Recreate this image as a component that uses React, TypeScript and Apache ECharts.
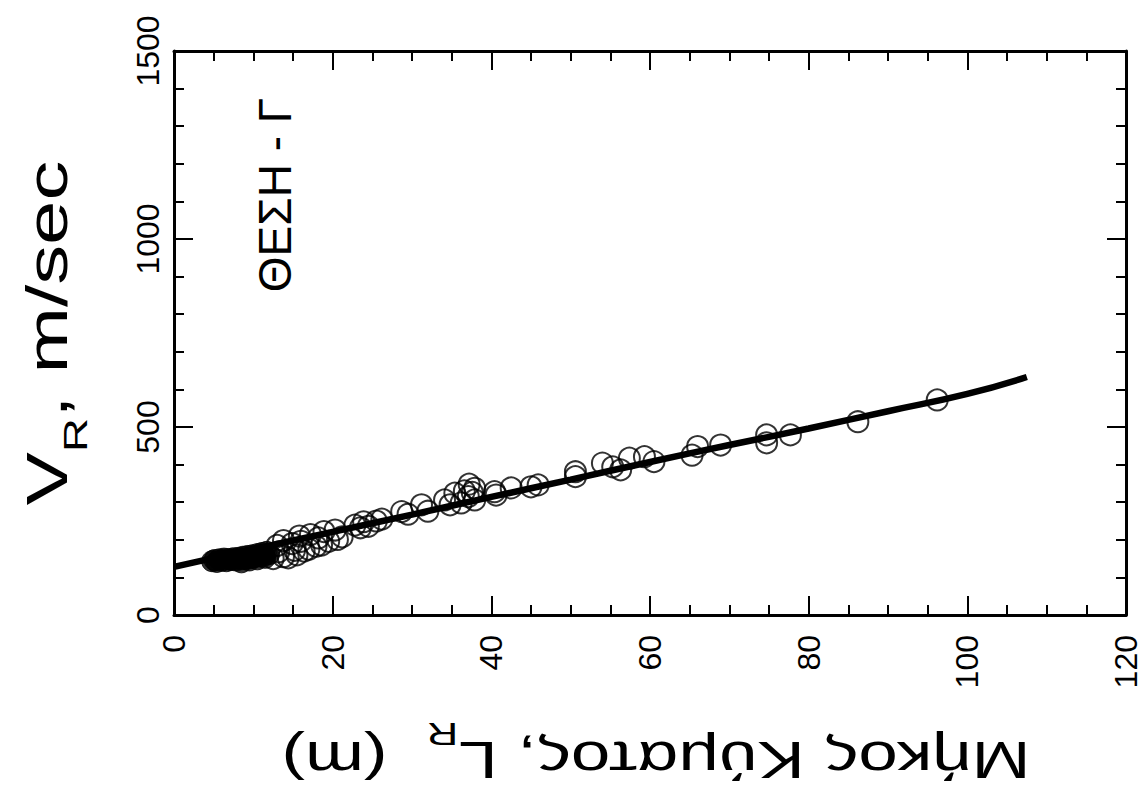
import React, { useEffect, useRef } from "react";
import * as echarts from "echarts";

// Dense cluster of short waves (printed as a solid blob in the original)
const clusterX = [
  4.8, 5.1, 5.4, 5.7, 6.0, 6.3, 6.6, 6.9, 7.2, 7.5, 7.8, 8.1, 8.4, 8.7, 9.0, 9.3, 9.6, 9.9, 10.2,
  10.5, 10.8, 11.1, 11.4, 11.7, 12.0, 8.5, 9.5, 10.5, 11.5,
];
const clusterY = [
  143, 146, 141, 148, 144, 150, 143, 149, 146, 151, 145, 152, 148, 155, 149, 157, 151, 159, 154,
  162, 156, 165, 158, 168, 162, 140, 145, 148, 152,
];
// Wave length L_R (m) of the other measured points
const lengthX = [
  12.5, 13.0, 13.2, 13.8, 13.8, 14.4, 14.9, 15.2, 15.5, 15.8, 16.0, 16.4, 17.0, 17.2, 17.9, 18.2,
  18.6, 18.9, 19.5, 20.3, 20.6, 21.2, 22.8, 23.5, 23.9, 24.5, 25.5, 26.2,
  28.7, 29.5, 31.2, 32.0, 34.1, 34.8, 35.4, 36.2, 36.6, 37.1, 37.2, 37.6, 37.9, 37.9, 40.4, 40.6,
  42.5, 45.0, 45.9, 50.6, 50.6, 54.0, 55.3, 56.3, 57.4, 59.3, 60.5, 65.3, 66.0, 68.9, 74.7, 74.7,
  77.7, 86.2, 96.2,
];
// Velocity V_R (m/sec) of the other measured points
const speedY = [
  150, 185, 168, 155, 198, 152, 190, 172, 160, 210, 196, 170, 175, 214, 183, 205,
  186, 222, 196, 226, 201, 208, 239, 232, 248, 236, 250, 255,
  275, 268, 293, 276, 306, 293, 324, 298, 330, 315, 348, 326, 337, 306, 328, 319,
  338, 341, 346, 381, 368, 404, 394, 386, 417, 421, 408, 425, 448, 452, 479, 458,
  479, 514, 572,
];
// Fitted curve
const fitX = [0, 10, 20, 30, 40, 50, 60, 70, 80, 90, 100, 107.5];
const fitY = [128, 175, 221, 267, 314, 360, 407, 452, 496, 542, 588, 633];

const xTickLabels = ["0", "20", "40", "60", "80", "100", "120"];
const yTickLabels = ["0", "500", "1000", "1500"];

const yTitle = "V{s|R}, m/sec";
const xTitle = "Μήκος Κύματος, L{s|R}  (m)";
const stationLabel = "ΘΕΣΗ - Γ";

const FONT = "'Liberation Sans', Arial, Helvetica, sans-serif";

export default function App() {
  const ref = useRef<HTMLDivElement>(null);
  useEffect(() => {
    const chart = echarts.init(ref.current!, null, { renderer: "svg" });
    const axisCommon = {
      type: "value" as const,
      axisLine: { show: true, onZero: false, lineStyle: { color: "#000", width: 3 } },
      axisTick: { show: true, inside: true, length: 19, lineStyle: { color: "#000", width: 2 } },
      splitLine: { show: false },
      minorSplitLine: { show: false },
    };
    const xLabel = (v: number) => xTickLabels[Math.round(v / 20)] ?? "";
    const yLabel = (v: number) => yTickLabels[Math.round(v / 500)] ?? "";
    chart.setOption({
      animation: false,
      backgroundColor: "#fff",
      grid: { left: 174, top: 51, width: 952, height: 564, containLabel: false },
      xAxis: [
        {
          ...axisCommon,
          position: "bottom",
          min: 0,
          max: 120,
          interval: 20,
          minorTick: { show: true, splitNumber: 4, length: 10, lineStyle: { color: "#000", width: 2 } },
          axisLabel: {
            rotate: 90,
            margin: 20,
            fontSize: 32,
            color: "#000",
            fontFamily: FONT,
            formatter: xLabel,
          },
        },
        {
          ...axisCommon,
          position: "top",
          min: 0,
          max: 120,
          interval: 20,
          minorTick: { show: true, splitNumber: 4, length: 10, lineStyle: { color: "#000", width: 2 } },
          axisLabel: { show: false },
        },
      ],
      yAxis: [
        {
          ...axisCommon,
          position: "left",
          min: 0,
          max: 1500,
          interval: 500,
          minorTick: { show: true, splitNumber: 5, length: 10, lineStyle: { color: "#000", width: 2 } },
          axisLabel: {
            rotate: 90,
            margin: 10,
            fontSize: 32,
            color: "#000",
            fontFamily: FONT,
            formatter: yLabel,
          },
        },
        {
          ...axisCommon,
          position: "right",
          min: 0,
          max: 1500,
          interval: 500,
          minorTick: { show: true, splitNumber: 5, length: 10, lineStyle: { color: "#000", width: 2 } },
          axisLabel: { show: false },
        },
      ],
      series: [
        {
          type: "scatter",
          name: "cluster",
          xAxisIndex: 0,
          yAxisIndex: 0,
          symbol: "circle",
          symbolSize: 21,
          itemStyle: { color: "#000", borderColor: "#000", borderWidth: 1 },
          data: clusterX.map((x, i) => [x, clusterY[i]]),
          z: 2,
        },
        {
          type: "scatter",
          name: "points",
          xAxisIndex: 0,
          yAxisIndex: 0,
          symbol: "circle",
          symbolSize: 21,
          itemStyle: { color: "rgba(0,0,0,0)", borderColor: "#000", borderWidth: 2 },
          data: lengthX.map((x, i) => [x, speedY[i]]),
          z: 2,
        },
        {
          type: "line",
          xAxisIndex: 0,
          yAxisIndex: 0,
          smooth: true,
          showSymbol: false,
          lineStyle: { color: "#000", width: 6.5 },
          data: fitX.map((x, i) => [x, fitY[i]]),
          z: 3,
        },
      ],
      graphic: [
        {
          type: "text",
          x: 47,
          y: 333,
          rotation: Math.PI / 2,
          scaleX: 1.4,
          style: {
            text: yTitle,
            fill: "#000",
            fontSize: 57,
            fontFamily: FONT,
            align: "center",
            verticalAlign: "middle",
            rich: {
              s: { fontSize: 34, fontFamily: FONT, fill: "#000", padding: [56, 0, 0, 0] },
            },
          },
        },
        {
          type: "text",
          x: 656,
          y: 760,
          rotation: Math.PI,
          scaleX: 1.36,
          style: {
            text: xTitle,
            fill: "#000",
            fontSize: 52,
            fontFamily: FONT,
            align: "center",
            verticalAlign: "middle",
            rich: {
              s: { fontSize: 32, fontFamily: FONT, fill: "#000", padding: [52, 0, 0, 0] },
            },
          },
        },
        {
          type: "text",
          x: 275,
          y: 195,
          rotation: Math.PI / 2,
          style: {
            text: stationLabel,
            fill: "#000",
            fontSize: 46,
            fontFamily: FONT,
            align: "center",
            verticalAlign: "middle",
          },
        },
      ],
    });
    return () => chart.dispose();
  }, []);
  return (
    <div
      ref={ref}
      style={{ position: "absolute", left: 0, top: 0, width: 1144, height: 810, background: "#fff" }}
    />
  );
}
